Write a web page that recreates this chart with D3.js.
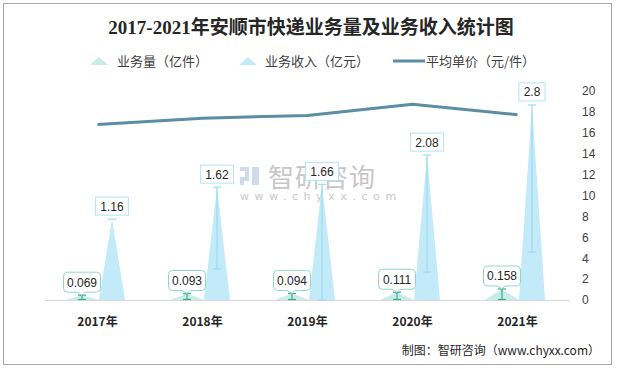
<!DOCTYPE html>
<html><head><meta charset="utf-8">
<script src="https://cdn.jsdelivr.net/npm/d3@7"></script>
<style>body{margin:0;background:#fff;}svg{display:block;}</style>
</head><body>
<svg id="c" width="617" height="369"></svg>
<script>
const years = ["2017年","2018年","2019年","2020年","2021年"];
const volume = [0.069, 0.093, 0.094, 0.111, 0.158];
const revenue = [1.16, 1.62, 1.66, 2.08, 2.8];
const price = [16.8, 17.4, 17.66, 18.74, 17.72];
const revenueErrLow = [null, 0.445, 0, 0.40, 0.69];
const rightTicks = [0,2,4,6,8,10,12,14,16,18,20];
const seriesNames = ["业务量（亿件）","业务收入（亿元）","平均单价（元/件）"];

const svg = d3.select("#c");
const cjk = "'Noto Sans CJK SC','Noto Sans',sans-serif";
svg.append("rect").attr("x",3.5).attr("y",3.5).attr("width",608).attr("height",361)
  .attr("fill","#fff").attr("stroke","#a6a6a6");

svg.append("text").attr("x",311).attr("y",34).attr("text-anchor","middle")
  .attr("font-family","'Liberation Serif','Noto Sans CJK SC',serif").attr("font-weight","bold")
  .attr("font-size",19).attr("fill","#262626").text("2017-2021年安顺市快递业务量及业务收入统计图");

const x = d3.scaleBand().domain(years).range([45,570]);
const yL = d3.scaleLinear().domain([0,3]).range([300,91]);
const yR = d3.scaleLinear().domain([0,20]).range([300,91]);

// watermark
const wm = svg.append("g").attr("opacity",0.55);
wm.append("rect").attr("x",240).attr("y",167).attr("width",9).attr("height",4).attr("fill","#a9bfd8");
wm.append("rect").attr("x",245).attr("y",171).attr("width",4).attr("height",6).attr("fill","#a9bfd8");
wm.append("rect").attr("x",240).attr("y",177).attr("width",9).attr("height",4).attr("fill","#a9bfd8");
wm.append("rect").attr("x",240).attr("y",181).attr("width",4).attr("height",4).attr("fill","#a9bfd8");
wm.append("rect").attr("x",252).attr("y",167).attr("width",7).attr("height",18).attr("fill","#a9bfd8");
wm.append("text").attr("x",268).attr("y",187).attr("font-family",cjk).attr("font-size",26)
  .attr("fill","#9a9a9a").attr("letter-spacing",1).text("智研咨询");
wm.append("text").attr("x",240).attr("y",200).attr("font-family","'DejaVu Sans',sans-serif").attr("font-size",11)
  .attr("fill","#9a9a9a").attr("letter-spacing",5.6).text("www.chyxx.com");

// baseline
svg.append("line").attr("x1",45).attr("x2",570).attr("y1",300.5).attr("y2",300.5).attr("stroke","#d9d9d9");

// right axis
const ra = svg.append("g").attr("transform","translate(577,0)")
  .call(d3.axisRight(yR).tickValues(rightTicks).tickSize(0).tickPadding(5));
ra.select(".domain").remove();
ra.selectAll("text").attr("font-family","'Liberation Sans',Arial,sans-serif").attr("font-size",12).attr("fill","#404040");

// x axis labels
const xa = svg.append("g").attr("transform","translate(0,300)")
  .call(d3.axisBottom(x).tickSize(0).tickPadding(17));
xa.select(".domain").remove();
xa.selectAll("text").attr("font-family",cjk).attr("font-weight","bold").attr("font-size",12).attr("fill","#262626");

const tri = (cx,w,yv) => `M${cx-w/2},300L${cx},${yv}L${cx+w/2},300Z`;
const cxS = d => x(d) + x.bandwidth()/2 - 15.5;
const cxB = d => x(d) + x.bandwidth()/2 + 14.5;

// small triangles
svg.selectAll(".ts").data(years).enter().append("path")
  .attr("d",(d,i)=>tri(cxS(d),34,yL(volume[i]))).attr("fill","#c9ece6");
// big triangles
svg.selectAll(".tb").data(years).enter().append("path")
  .attr("d",(d,i)=>tri(cxB(d),26,yL(revenue[i]))).attr("fill","#c3eaf8");

// error bars big
years.forEach((d,i)=>{
  const cx = cxB(d), top = yL(revenue[i]);
  const g = svg.append("g").attr("stroke","#9cdbf1").attr("stroke-width",1.2);
  g.append("line").attr("x1",cx-4).attr("x2",cx+4).attr("y1",top).attr("y2",top);
  if (revenueErrLow[i] !== null) {
    const b = yL(revenueErrLow[i]);
    g.append("line").attr("x1",cx).attr("x2",cx).attr("y1",top).attr("y2",b);
    g.append("line").attr("x1",cx-4).attr("x2",cx+4).attr("y1",b).attr("y2",b);
  }
});
// error bars small
years.forEach((d,i)=>{
  const cx = cxS(d), top = yL(volume[i]);
  const g = svg.append("g").attr("stroke","#3aa896").attr("stroke-width",1.2);
  g.append("line").attr("x1",cx).attr("x2",cx).attr("y1",top).attr("y2",300);
  g.append("line").attr("x1",cx-4).attr("x2",cx+4).attr("y1",top).attr("y2",top);
  g.append("line").attr("x1",cx-4).attr("x2",cx+4).attr("y1",299.5).attr("y2",299.5);
});

// price line
const line = d3.line().x((d,i)=>x(years[i])+x.bandwidth()/2).y(d=>yR(d));
svg.append("path").datum(price).attr("d",line).attr("fill","none")
  .attr("stroke","#5b8ea3").attr("stroke-width",3);

// big labels
years.forEach((d,i)=>{
  const cx = cxB(d), yv = yL(revenue[i]);
  const t = String(revenue[i]);
  const w = t.length*6.7+6, h = 18, bottom = yv-4;
  svg.append("rect").attr("x",cx-w/2).attr("y",bottom-h).attr("width",w).attr("height",h)
    .attr("fill","#fff").attr("stroke","#b3e3f4");
  svg.append("text").attr("x",cx).attr("y",bottom-4.5).attr("text-anchor","middle")
    .attr("font-family","'Liberation Sans',Arial,sans-serif").attr("font-size",12).attr("fill","#262626").text(t);
});
// small labels (callouts)
years.forEach((d,i)=>{
  const cx = cxS(d), yv = yL(volume[i]);
  const t = String(volume[i]);
  const w = 37, h = 20, bottom = yv-3, top = bottom-h, l = cx-w/2, r = cx+w/2, rr = 4;
  const p = `M${l+rr},${top}H${r-rr}Q${r},${top} ${r},${top+rr}V${bottom-rr}Q${r},${bottom} ${r-rr},${bottom}`+
    `H${cx+3}L${cx},${yv}L${cx-5},${bottom}H${l+rr}Q${l},${bottom} ${l},${bottom-rr}V${top+rr}Q${l},${top} ${l+rr},${top}Z`;
  svg.append("path").attr("d",p).attr("fill","#fff").attr("stroke","#95d5c9");
  svg.append("text").attr("x",cx).attr("y",bottom-5.5).attr("text-anchor","middle")
    .attr("font-family","'Liberation Sans',Arial,sans-serif").attr("font-size",12).attr("fill","#262626").text(t);
});

// legend
const lg = svg.append("g").attr("font-family",cjk).attr("font-size",13).attr("fill","#404040");
lg.append("path").attr("d","M90,65L99,57L108,65Z").attr("fill","#c9ece6");
lg.append("text").attr("x",117).attr("y",66).text(seriesNames[0]);
lg.append("path").attr("d","M239,65L248,57L257,65Z").attr("fill","#c3eaf8");
lg.append("text").attr("x",265).attr("y",66).text(seriesNames[1]);
lg.append("line").attr("x1",393).attr("x2",425).attr("y1",61).attr("y2",61).attr("stroke","#5b8ea3").attr("stroke-width",3);
lg.append("text").attr("x",426).attr("y",66).text(seriesNames[2]);

// footer
svg.append("text").attr("x",600).attr("y",355).attr("text-anchor","end")
  .attr("font-family",cjk).attr("font-size",12).attr("fill","#262626").text("制图：智研咨询（www.chyxx.com）");
</script>
</body></html>
